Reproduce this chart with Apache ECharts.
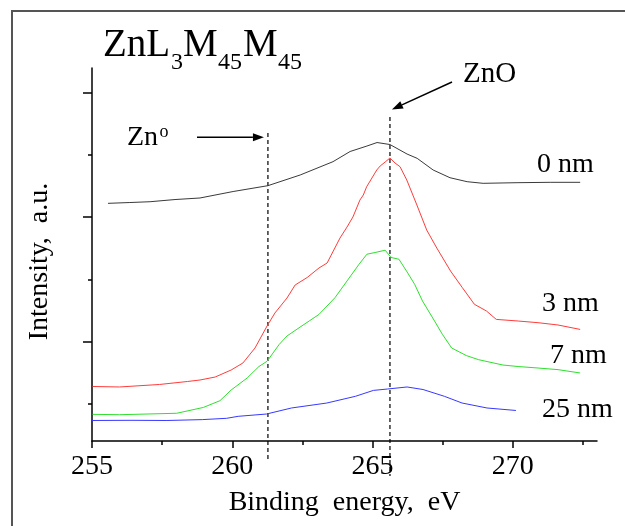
<!DOCTYPE html>
<html>
	<head>
		<meta charset="utf-8">
		<script src="https://cdn.jsdelivr.net/npm/echarts@6/dist/echarts.min.js"></script>
		<title></title>
		<style>
			html, body { margin: 0; padding: 0; background: #fff; }
		</style>
	</head>
	<body>
		<div id="main" style="width: 625px;height:526px;"></div>
		<script type="text/javascript">
			// binding energy (eV) / intensity (a.u.)
			var e0 = [255.57, 256.35, 257.07, 257.96, 258.85, 260.03, 261.27, 262.42, 263.59, 264.20, 264.80, 265.16, 265.62, 266.23, 266.59, 267.16, 267.76, 268.37, 268.94, 270.15, 271.33, 272.40];
			var i0 = [3.823, 3.836, 3.849, 3.884, 3.909, 4.013, 4.107, 4.279, 4.493, 4.657, 4.745, 4.801, 4.769, 4.616, 4.547, 4.359, 4.235, 4.171, 4.145, 4.155, 4.161, 4.161];

			var e3 = [255.02, 255.98, 257.40, 258.40, 258.85, 259.39, 259.96, 260.38, 260.81, 261.24, 261.52, 261.95, 262.24, 262.67, 263.09, 263.38, 263.84, 264.09, 264.30, 264.55, 264.67, 264.79, 265.15, 265.27, 265.45, 265.62, 265.80, 265.98, 266.22, 266.58, 266.93, 267.29, 267.78, 268.20, 268.63, 269.06, 269.41, 270.19, 270.90, 271.61, 272.40];
			var i3 = [0.877, 0.869, 0.909, 0.957, 0.981, 1.029, 1.142, 1.255, 1.496, 1.850, 2.059, 2.300, 2.509, 2.630, 2.783, 2.863, 3.265, 3.442, 3.603, 3.876, 3.957, 4.090, 4.359, 4.423, 4.488, 4.552, 4.472, 4.412, 4.198, 3.796, 3.394, 3.104, 2.734, 2.467, 2.199, 2.091, 1.956, 1.930, 1.903, 1.866, 1.795];

			var e7 = [255.02, 255.98, 258.02, 258.97, 259.56, 259.96, 260.53, 260.95, 261.24, 261.67, 261.95, 262.38, 262.74, 263.09, 263.66, 264.09, 264.52, 264.80, 265.09, 265.45, 265.66, 265.94, 266.21, 266.50, 266.78, 267.21, 267.49, 267.82, 268.34, 268.77, 269.65, 270.19, 270.90, 271.61, 272.40];
			var i7 = [0.429, 0.423, 0.446, 0.540, 0.648, 0.820, 1.013, 1.198, 1.282, 1.552, 1.689, 1.821, 1.930, 2.036, 2.305, 2.574, 2.844, 3.005, 3.032, 3.069, 2.952, 2.924, 2.734, 2.521, 2.252, 1.930, 1.715, 1.496, 1.375, 1.309, 1.222, 1.198, 1.174, 1.148, 1.094];

			var e25 = [255.00, 256.39, 257.67, 258.93, 259.80, 260.21, 261.22, 262.11, 263.37, 264.39, 265.03, 265.53, 266.23, 266.80, 267.56, 268.19, 269.08, 270.11];
			var i25 = [0.330, 0.333, 0.330, 0.344, 0.365, 0.397, 0.434, 0.531, 0.611, 0.719, 0.814, 0.836, 0.869, 0.828, 0.719, 0.611, 0.531, 0.491];

			var xMajor = [255, 260, 265, 270];
			var xMinor = [257.5, 262.5, 267.5, 272.5];
			var yMajor = [1.6, 3.6, 5.6];
			var yMinor = [0.6, 2.6, 4.6];
			var peaks = [261.27, 265.62]; // Zn metal, ZnO

			var FONT = 'Liberation Serif';

			function pairs(xs, ys) {
				var out = [];
				for (var k = 0; k < xs.length; k++) out.push([xs[k], ys[k]]);
				return out;
			}

			function curve(name, xs, ys, color) {
				return {
					name: name,
					type: 'line',
					xAxisIndex: 0,
					yAxisIndex: 0,
					showSymbol: false,
					lineStyle: { color: color, width: 1 },
					data: pairs(xs, ys)
				};
			}

			var myChart = echarts.init(document.getElementById('main'));

			var option = {
				animation: false,
				backgroundColor: '#fff',
				grid: { left: 92, right: 28, top: 68, bottom: 85 },
				xAxis: [{
					type: 'value',
					min: 255,
					max: 273,
					position: 'bottom',
					name: 'Binding  energy,  eV',
					nameLocation: 'middle',
					nameGap: 48,
					nameTextStyle: { fontFamily: FONT, fontSize: 28, color: '#000' },
					axisLine: { lineStyle: { color: '#000', width: 1.5 } },
					axisTick: { customValues: xMajor, length: 7, lineStyle: { color: '#000', width: 1.5 } },
					axisLabel: { customValues: xMajor, margin: 12, fontFamily: FONT, fontSize: 28, color: '#000' },
					splitLine: { show: false }
				}, {
					type: 'value',
					min: 255,
					max: 273,
					position: 'bottom',
					axisLine: { show: false },
					axisTick: { customValues: xMinor, length: 4, lineStyle: { color: '#000', width: 1.5 } },
					axisLabel: { show: false },
					splitLine: { show: false }
				}],
				yAxis: [{
					type: 'value',
					min: 0,
					max: 6,
					position: 'left',
					name: 'Intensity,  a.u.',
					nameLocation: 'middle',
					nameGap: 38,
					nameTextStyle: { fontFamily: FONT, fontSize: 28, color: '#000', padding: [0, 14, 0, 0] },
					axisLine: { lineStyle: { color: '#000', width: 1.5 } },
					axisTick: { customValues: yMajor, length: 9, lineStyle: { color: '#000', width: 1.5 } },
					axisLabel: { show: false },
					splitLine: { show: false }
				}, {
					type: 'value',
					min: 0,
					max: 6,
					position: 'left',
					axisLine: { show: false },
					axisTick: { customValues: yMinor, length: 4, lineStyle: { color: '#000', width: 1.5 } },
					axisLabel: { show: false },
					splitLine: { show: false }
				}],
				series: [
					curve('0 nm', e0, i0, '#3a3a3a'),
					curve('3 nm', e3, i3, '#ff3c3c'),
					curve('7 nm', e7, i7, '#2ee02e'),
					curve('25 nm', e25, i25, '#3838ff')
				]
			};

			myChart.setOption(option);

			// annotations: frame, title, dashed peak lines, arrows, thickness labels
			function txt(str, x, y, size) {
				return {
					type: 'text', x: x, y: y, silent: true,
					style: { text: str, fontFamily: FONT, fontSize: size, fill: '#000', verticalAlign: 'middle' }
				};
			}

			function arrow(x1, y1, x2, y2) {
				var dx = x2 - x1, dy = y2 - y1;
				var len = Math.sqrt(dx * dx + dy * dy);
				var ux = dx / len, uy = dy / len;
				var bx = x2 - ux * 11, by = y2 - uy * 11;
				return [{
					type: 'line', silent: true,
					shape: { x1: x1, y1: y1, x2: bx, y2: by },
					style: { stroke: '#000', lineWidth: 1.5 }
				}, {
					type: 'polygon', silent: true,
					shape: { points: [[x2, y2], [bx - uy * 4, by + ux * 4], [bx + uy * 4, by - ux * 4]] },
					style: { fill: '#000' }
				}];
			}

			var xZn = myChart.convertToPixel({ xAxisIndex: 0 }, peaks[0]);
			var xZnO = myChart.convertToPixel({ xAxisIndex: 0 }, peaks[1]);

			var graphics = [{
				type: 'rect', silent: true,
				shape: { x: 12, y: 11, width: 700, height: 600 },
				style: { fill: 'none', stroke: '#555', lineWidth: 2 }
			}, {
				type: 'line', silent: true,
				shape: { x1: xZn, y1: 133, x2: xZn, y2: 459 },
				style: { stroke: '#333', lineWidth: 1.5, lineDash: [4, 3] }
			}, {
				type: 'line', silent: true,
				shape: { x1: xZnO, y1: 117, x2: xZnO, y2: 476 },
				style: { stroke: '#333', lineWidth: 1.5, lineDash: [4, 3] }
			},
				txt('ZnL', 103, 45.5, 39),
				txt('3', 171, 63, 24),
				txt('M', 183, 45.5, 39),
				txt('45', 218, 63, 24),
				txt('M', 243, 45.5, 39),
				txt('45', 278, 63, 24),
				txt('ZnO', 463, 74, 29),
				txt('Zn', 127, 137.5, 28),
				txt('o', 159.5, 132, 18),
				txt('0 nm', 537, 164.5, 28),
				txt('3 nm', 542, 303.5, 28),
				txt('7 nm', 550, 356, 28),
				txt('25 nm', 542, 409.5, 28)
			];
			graphics = graphics.concat(arrow(197, 137.3, xZn - 4, 137.3));
			graphics = graphics.concat(arrow(452, 82, xZnO + 2, 109.5));

			myChart.setOption({ graphic: graphics });
		</script>
	</body>
</html>
